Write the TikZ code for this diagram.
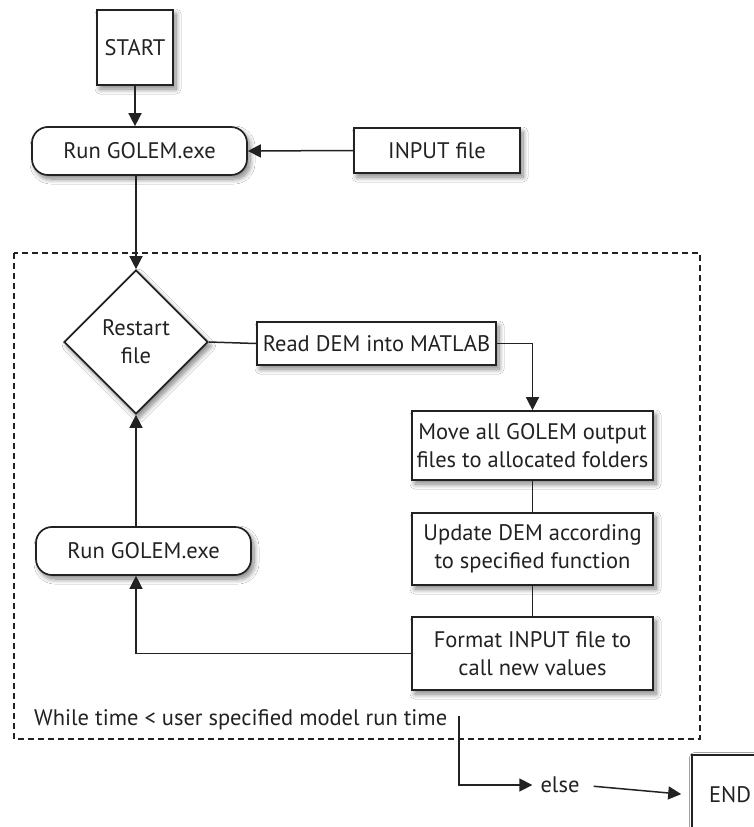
\documentclass[tikz,border=0pt]{standalone}
\usepackage{fontspec}
\setmainfont{PT Sans}
\usetikzlibrary{shapes.geometric,arrows.meta,shadows.blur}
\definecolor{ink}{HTML}{222222}
\tikzset{
  txt/.style={font=\fontsize{22.5}{28}\selectfont, text=ink},
  box/.style={draw=ink, line width=1.7pt, fill=white, align=center, inner sep=2pt, txt,
    blur shadow={shadow blur steps=10, shadow xshift=3pt, shadow yshift=-4pt, shadow opacity=50, shadow blur radius=5pt}},
  roundbox/.style={box, rounded corners=16pt},
  decision/.style={box, diamond, aspect=1, inner sep=0pt},
  conn/.style={draw=ink, line width=1.5pt},
  arr/.style={conn, -{Triangle[length=13pt,width=13pt]}},
  lbl/.style={txt, inner sep=0pt},
}
\begin{document}
\begin{tikzpicture}[x=1pt,y=-1pt]
\useasboundingbox (0,0) rectangle (754,827);
\fill[white] (0,0) rectangle (754,827);
% loop frame
\draw[ink, line width=1.4pt, dash pattern=on 6pt off 4pt] (14,253) rectangle (700,739);
% nodes
\node[box, minimum width=76pt, minimum height=75pt] (start) at (135,47.5) {START};
\node[roundbox, minimum width=215pt, minimum height=48pt] (run1) at (139.5,151) {Run GOLEM.exe};
\node[box, minimum width=166pt, minimum height=45pt] (input) at (437,150.5) {INPUT file};
\node[decision, minimum width=144pt, minimum height=144pt] (restart) at (136,342) {Restart\\file};
\node[box, minimum width=239pt, minimum height=43pt] (read) at (376.5,343.5) {Read DEM into MATLAB};
\node[box, minimum width=241pt, minimum height=69pt] (move) at (532.5,445.5) {Move all GOLEM output\\files to allocated folders};
\node[box, minimum width=241pt, minimum height=72pt] (update) at (532.5,549) {Update DEM according\\to specified function};
\node[box, minimum width=241pt, minimum height=73pt] (format) at (532.5,653.5) {Format INPUT file to\\call new values};
\node[roundbox, minimum width=215pt, minimum height=48pt] (run2) at (143.5,551) {Run GOLEM.exe};
\node[lbl, anchor=west] (while) at (34,720) {While time < user specified model run time};
\node[lbl] (else) at (560,785) {else};
\node[box, minimum width=76pt, minimum height=80pt, blur shadow={shadow opacity=0}] (end) at (730,795) {END};
\coordinate (wend) at (459,716);
% connectors
\draw[arr] (start.south) -- (start.south |- run1.north);
\draw[arr] (input.west) -- (run1.east);
\draw[arr] (restart.north |- run1.south) -- (restart.north);
\draw[conn] (restart.east) -- (read.west);
\draw[arr] (read.east) -| (move.north);
\draw[conn] (move.south) -- (update.north);
\draw[conn] (update.south) -- (format.north);
\draw[arr] (format.west) -| (restart.south |- run2.south);
\draw[arr] (restart.south |- run2.north) -- (restart.south);
\draw[arr, shorten >=8pt] (wend) |- (else.west);
\draw[arr, shorten <=14pt, shorten >=10pt] (else.east) -- (end.west);
\end{tikzpicture}
\end{document}
